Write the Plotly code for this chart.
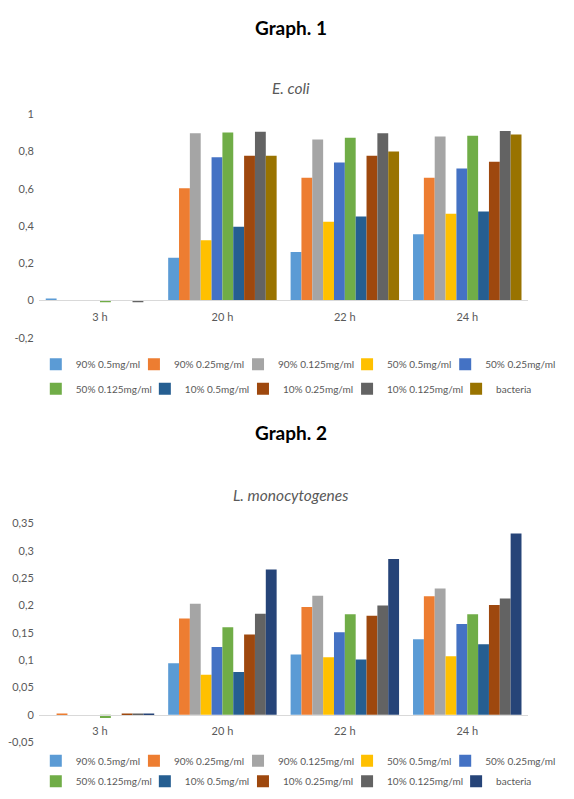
import plotly.graph_objects as go

# ---------------- data ----------------
categories = ['3 h', '20 h', '22 h', '24 h']

series_names = ['90% 0.5mg/ml', '90% 0.25mg/ml', '90% 0.125mg/ml',
                '50% 0.5mg/ml', '50% 0.25mg/ml', '50% 0.125mg/ml',
                '10% 0.5mg/ml', '10% 0.25mg/ml', '10% 0.125mg/ml',
                'bacteria']

# E. coli (Graph 1), one row per series, values at 3 h, 20 h, 22 h, 24 h
ecoli_values = [
    [0.011, 0.230, 0.261, 0.356],
    [0.0, 0.603, 0.660, 0.660],
    [0.0, 0.899, 0.865, 0.881],
    [0.0, 0.324, 0.423, 0.466],
    [0.0, 0.770, 0.741, 0.709],
    [-0.005, 0.903, 0.874, 0.885],
    [0.0, 0.396, 0.451, 0.478],
    [0.0, 0.777, 0.777, 0.746],
    [-0.005, 0.906, 0.899, 0.910],
    [0.0, 0.777, 0.800, 0.892],
]

# L. monocytogenes (Graph 2)
listeria_values = [
    [0.0, 0.094, 0.110, 0.138],
    [0.002, 0.176, 0.197, 0.217],
    [0.0, 0.203, 0.218, 0.231],
    [0.0, 0.073, 0.105, 0.107],
    [0.0, 0.124, 0.151, 0.166],
    [-0.006, 0.160, 0.184, 0.184],
    [0.0, 0.078, 0.101, 0.129],
    [0.002, 0.147, 0.181, 0.201],
    [0.001, 0.185, 0.200, 0.213],
    [0.002, 0.266, 0.285, 0.332],
]

ecoli_colors = ['#5B9BD5', '#ED7D31', '#A5A5A5', '#FFC000', '#4472C4',
                '#70AD47', '#255E91', '#9E480E', '#636363', '#997300']
listeria_colors = ['#5B9BD5', '#ED7D31', '#A5A5A5', '#FFC000', '#4472C4',
                   '#70AD47', '#255E91', '#9E480E', '#636363', '#264478']

ecoli_tickvals = [-0.2, 0, 0.2, 0.4, 0.6, 0.8, 1]
ecoli_ticktext = ['-0,2', '0', '0,2', '0,4', '0,6', '0,8', '1']
listeria_tickvals = [-0.05, 0, 0.05, 0.1, 0.15, 0.2, 0.25, 0.3, 0.35]
listeria_ticktext = ['-0,05', '0', '0,05', '0,1', '0,15', '0,2', '0,25', '0,3', '0,35']

# ---------------- layout helpers (pixels) ----------------
W, H = 574, 799
FONT = 'Lato'
GREY = '#595959'


def yp(px):
    return 1 - px / H


x_dom = [26 / W, 520 / W]

g1_range = [-0.2, 1.0]
g1_dom = [yp(328), yp(101)]
g2_range = [-0.05, 0.35]
g2_dom = [yp(739), yp(517)]


def zero_pos(dom, rng):
    return dom[0] + (dom[1] - dom[0]) * (0 - rng[0]) / (rng[1] - rng[0])


# legend symbol left-edge x positions (px) for the two rows, and row y (px)
leg_x_rows = [[37, 136, 241, 351, 450], [37, 147, 246, 351, 461]]
g1_leg_y = [355, 380]
g2_leg_y = [758, 779]

fig = go.Figure()
layout_legends = {}

charts = [
    (ecoli_values, ecoli_colors, 'x', 'y', g1_leg_y, 0),
    (listeria_values, listeria_colors, 'x2', 'y2', g2_leg_y, 10),
]

for values, colors, xa, ya, leg_y, offset in charts:
    for i, (name, vals, col) in enumerate(zip(series_names, values, colors)):
        n = offset + i + 1
        lid = 'legend' if n == 1 else f'legend{n}'
        fig.add_trace(go.Bar(
            x=categories, y=vals, name=name,
            marker=dict(color=col, line=dict(width=0)),
            xaxis=xa, yaxis=ya, legend=lid, hoverinfo='name+y',
        ))
        row, colidx = divmod(i, 5)
        sx = leg_x_rows[row][colidx]
        layout_legends[lid] = dict(
            x=(sx - 14) / W, xanchor='left',
            y=yp(leg_y[row]), yanchor='middle',
            orientation='h', bgcolor='rgba(0,0,0,0)', borderwidth=0,
            font=dict(family=FONT, size=10, color=GREY),
            itemwidth=30,
        )

axis_common = dict(showgrid=False, zeroline=False, fixedrange=True)
tick_font = dict(family=FONT, size=11, color=GREY)

fig.update_layout(
    width=W, height=H,
    margin=dict(l=0, r=0, t=0, b=0),
    paper_bgcolor='white', plot_bgcolor='white',
    barmode='group', bargap=0.114, bargroupgap=0,
    font=dict(family=FONT, color=GREY),
    showlegend=True,
    xaxis=dict(domain=x_dom, anchor='free', position=zero_pos(g1_dom, g1_range),
               showline=True, linecolor='#D9D9D9', linewidth=1, ticks='',
               tickfont=tick_font, ticklabelstandoff=6, **axis_common),
    yaxis=dict(domain=g1_dom, anchor='x', range=g1_range,
               tickvals=ecoli_tickvals, ticktext=ecoli_ticktext,
               showline=False, ticks='', tickfont=tick_font,
               ticklabelstandoff=4, **axis_common),
    xaxis2=dict(domain=x_dom, anchor='free', position=zero_pos(g2_dom, g2_range),
                showline=True, linecolor='#D9D9D9', linewidth=1, ticks='',
                tickfont=tick_font, ticklabelstandoff=6, **axis_common),
    yaxis2=dict(domain=g2_dom, anchor='x2', range=g2_range,
                tickvals=listeria_tickvals, ticktext=listeria_ticktext,
                showline=False, ticks='', tickfont=tick_font,
                ticklabelstandoff=4, **axis_common),
    annotations=[
        dict(text='<b>Graph. 1</b>', x=280 / W, y=yp(13), xref='paper', yref='paper',
             showarrow=False, font=dict(family=FONT, size=19, color='black'),
             xanchor='center', yanchor='middle'),
        dict(text='<i>E. coli</i>', x=280 / W, y=yp(74), xref='paper', yref='paper',
             showarrow=False, font=dict(family=FONT, size=15.5, color=GREY),
             xanchor='center', yanchor='middle'),
        dict(text='<b>Graph. 2</b>', x=280 / W, y=yp(424), xref='paper', yref='paper',
             showarrow=False, font=dict(family=FONT, size=19, color='black'),
             xanchor='center', yanchor='middle'),
        dict(text='<i>L. monocytogenes</i>', x=280 / W, y=yp(488), xref='paper', yref='paper',
             showarrow=False, font=dict(family=FONT, size=15.5, color=GREY),
             xanchor='center', yanchor='middle'),
    ],
)
fig.update_layout(**layout_legends)

fig.write_html('out.html')
